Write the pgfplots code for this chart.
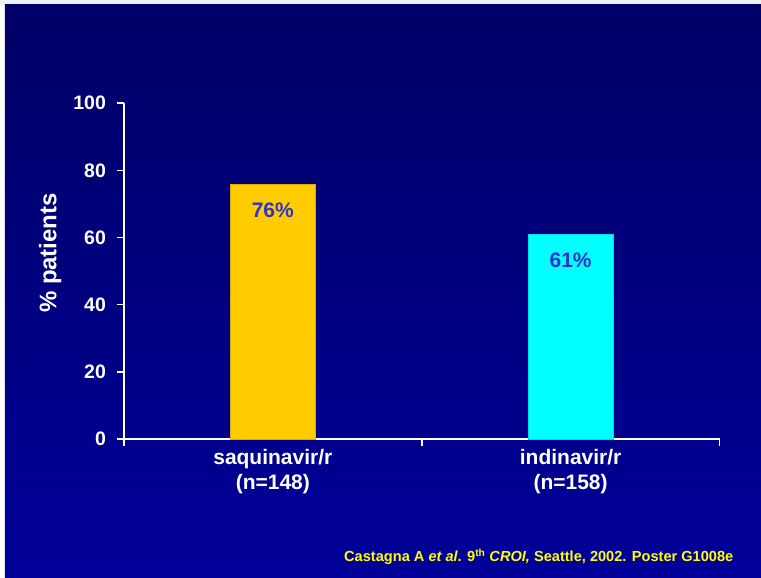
\documentclass[border=0pt]{standalone}
\usepackage{fontspec}
\setmainfont{Liberation Sans}
\usepackage{pgfplots}
\pgfplotsset{compat=1.18}

\definecolor{bgtop}{RGB}{0,0,102}
\definecolor{bgbot}{RGB}{0,0,153}
\definecolor{edgetop}{RGB}{238,242,247}
\definecolor{saqbar}{RGB}{255,204,0}
\definecolor{idvbar}{RGB}{0,255,255}
\definecolor{vallab}{RGB}{51,51,204}
\definecolor{citecol}{RGB}{255,255,0}

\begin{document}
\begin{tikzpicture}[x=1pt,y=1pt]
% slide background
\fill[white] (0,0) rectangle (761,578);
\fill[edgetop] (0,573) rectangle (761,578);
\shade[top color=bgtop,bottom color=bgbot] (5,0) rectangle (761.5,573);

\begin{axis}[
  at={(124pt,138.7pt)}, anchor=south west,
  scale only axis, width=596pt, height=336pt,
  xmin=-0.5, xmax=1.5, ymin=0, ymax=100,
  axis x line*=bottom, axis y line*=left,
  axis line style={white, line width=1.6pt, -},
  tick style={white, line width=1.6pt},
  tick align=outside, major tick length=7pt,
  xtick={-0.5,0.5,1.5}, xticklabels={},
  ytick={0,20,...,100},
  /pgf/number format/assume math mode=true,
  yticklabel style={font=\fontsize{19.5}{19.5}\selectfont\bfseries, text=white,
    xshift=-7.5pt},
  extra x ticks={0,1},
  extra x tick labels={{saquinavir/r\\(n=148)},{indinavir/r\\(n=158)}},
  extra x tick style={major tick length=0pt,
    xticklabel style={align=center, text=white, yshift=-7pt,
      font=\fontsize{21}{25}\selectfont\bfseries}},
  ylabel={\% patients},
  ylabel style={at={(axis description cs:-0.124,0.554)}, anchor=center,
    text=white, font=\fontsize{24}{24}\selectfont\bfseries},
  bar width=85pt,
  nodes near coords={\pgfmathprintnumber{\pgfplotspointmeta}\%},
  every node near coord/.append style={anchor=center, yshift=-26.5pt,
    text=vallab, font=\fontsize{21}{21}\selectfont\bfseries},
]
\addplot[ybar, bar shift=0pt, fill=saqbar, draw=saqbar!85!black, line width=0.4pt]
  coordinates {(0,76)};
\addplot[ybar, bar shift=0pt, fill=idvbar, draw=idvbar!85!black, line width=0.4pt]
  coordinates {(1,61)};
\end{axis}

\node[anchor=base east, text=citecol, inner sep=0pt,
  font=\fontsize{14.6}{16}\selectfont\bfseries] at (734,16)
  {Castagna A \textit{et al}. 9\textsuperscript{th} \textit{CROI,} Seattle, 2002. Poster G1008e};
\end{tikzpicture}
\end{document}
